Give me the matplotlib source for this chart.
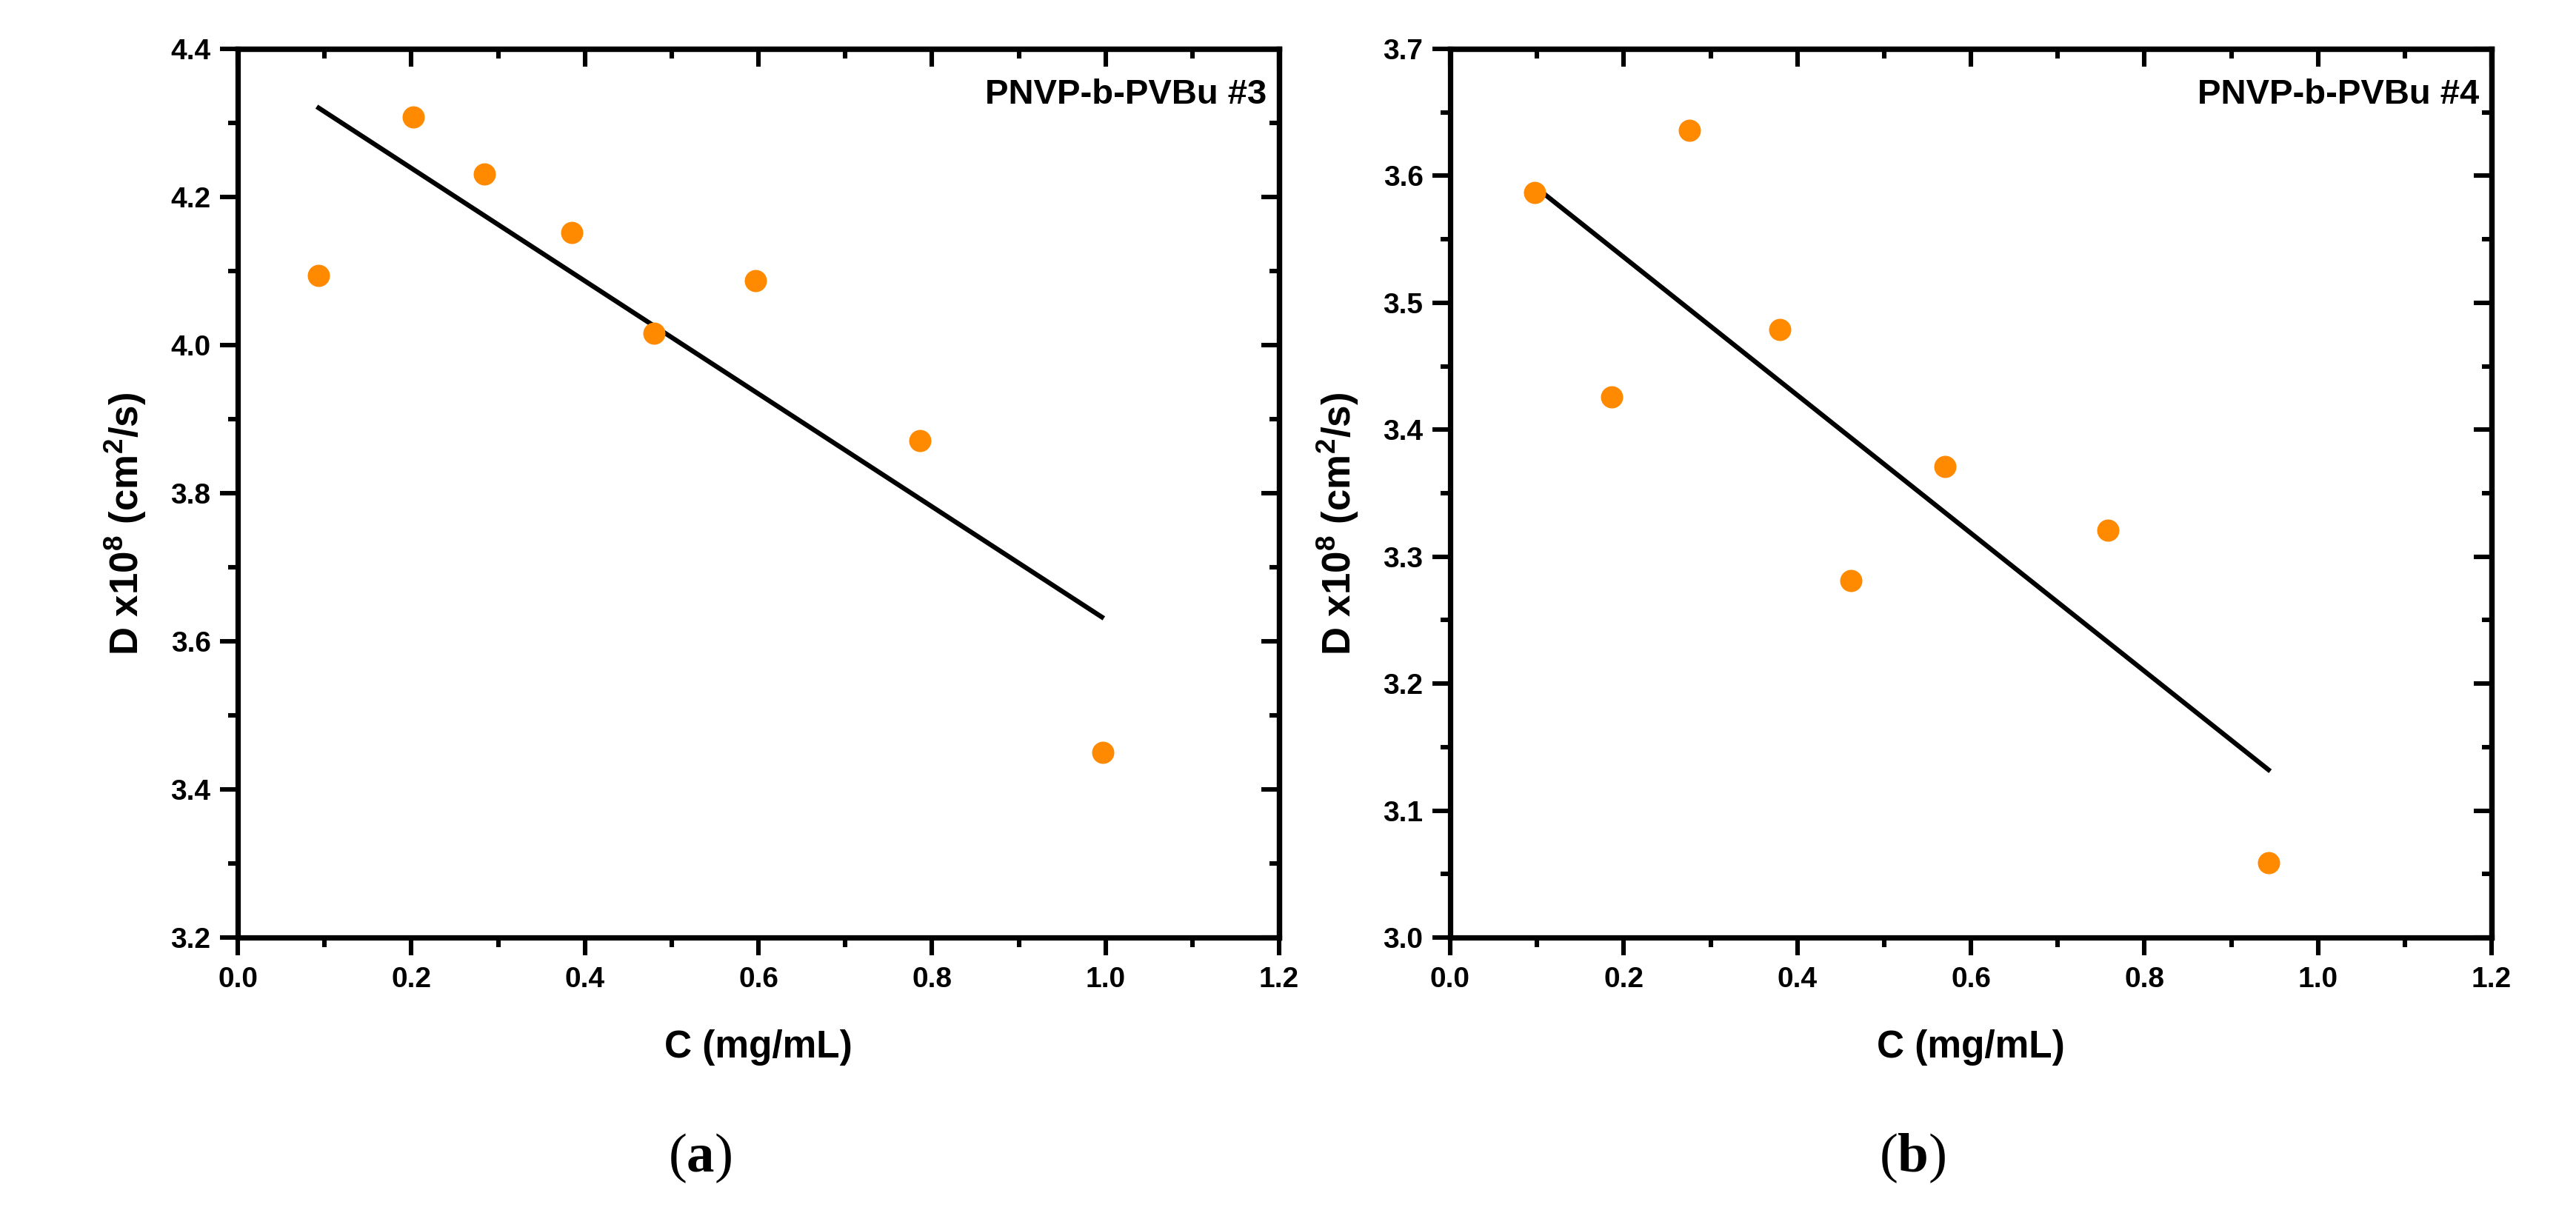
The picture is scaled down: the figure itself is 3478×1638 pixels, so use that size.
import matplotlib
matplotlib.use("Agg")
import matplotlib.pyplot as plt
from matplotlib.ticker import MultipleLocator

# ---- data ----
conc_a = [0.093, 0.202, 0.284, 0.385, 0.480, 0.597, 0.786, 0.997]
diff_a = [4.094, 4.308, 4.231, 4.152, 4.016, 4.087, 3.871, 3.450]
fit_x_a = [0.091, 0.998]
fit_y_a = [4.322, 3.631]

conc_b = [0.097, 0.186, 0.276, 0.380, 0.462, 0.570, 0.758, 0.943]
diff_b = [3.587, 3.426, 3.636, 3.479, 3.281, 3.371, 3.321, 3.059]
fit_x_b = [0.095, 0.945]
fit_y_b = [3.593, 3.131]

xticks = [0.0, 0.2, 0.4, 0.6, 0.8, 1.0, 1.2]
yticks_a = [3.2, 3.4, 3.6, 3.8, 4.0, 4.2, 4.4]
yticks_b = [3.0, 3.1, 3.2, 3.3, 3.4, 3.5, 3.6, 3.7]

labels = ["PNVP-b-PVBu #3", "PNVP-b-PVBu #4"]
panel_tags = ["a", "b"]
xlabel = "C (mg/mL)"
ylabel = r"D x10$^{8}$ (cm$^{2}$/s)"

# ---- style ----
plt.rcParams["font.family"] = ["Liberation Sans", "DejaVu Sans"]
plt.rcParams["font.weight"] = "bold"
plt.rcParams["mathtext.fontset"] = "custom"
plt.rcParams["mathtext.rm"] = "Liberation Sans:bold"
plt.rcParams["mathtext.it"] = "Liberation Sans:bold"
plt.rcParams["mathtext.bf"] = "Liberation Sans:bold"
plt.rcParams["mathtext.sf"] = "Liberation Serif:bold"

W, H, DPI = 3478, 1638, 200
fig = plt.figure(figsize=(W / DPI, H / DPI), dpi=DPI)
fig.patch.set_facecolor("white")

ax_h = (1266 - 66) / H
ax_b = 1 - 1266 / H
ax_w = 1406 / W
lefts = [321 / W, 1958 / W]

orange = "#FF8A00"

panels = [
    (conc_a, diff_a, fit_x_a, fit_y_a, yticks_a, 0.1),
    (conc_b, diff_b, fit_x_b, fit_y_b, yticks_b, 0.05),
]

for i, (cx, dy, fx, fy, yt, yminor) in enumerate(panels):
    ax = fig.add_axes([lefts[i], ax_b, ax_w, ax_h])
    ax.plot(fx, fy, color="black", lw=2.3, solid_capstyle="butt", zorder=2)
    ax.plot(cx, dy, "o", color=orange, ms=9.8, mec=orange, zorder=3)
    ax.set_xlim(xticks[0], xticks[-1])
    ax.set_ylim(yt[0], yt[-1])
    ax.set_xticks(xticks)
    ax.set_yticks(yt)
    ax.set_xticklabels([f"{v:.1f}" for v in xticks])
    ax.set_yticklabels([f"{v:.1f}" for v in yt])
    ax.xaxis.set_minor_locator(MultipleLocator(0.1))
    ax.yaxis.set_minor_locator(MultipleLocator(yminor))
    for s in ax.spines.values():
        s.set_linewidth(2.6)
    ax.tick_params(which="both", direction="out", width=2.2, labelsize=14,
                   top=False, right=False)
    ax.tick_params(which="major", length=8.6)
    ax.tick_params(which="minor", length=4.8)
    ax.tick_params(axis="x", pad=5.5)
    ax.tick_params(axis="y", pad=4.5)
    for lab in ax.get_xticklabels() + ax.get_yticklabels():
        lab.set_fontweight("bold")
    # inward ticks on top / right
    sx = ax.secondary_xaxis("top")
    sx.set_xticks(xticks)
    sx.xaxis.set_minor_locator(MultipleLocator(0.1))
    sx.tick_params(which="both", direction="in", width=2.2, labeltop=False)
    sx.tick_params(which="major", length=8.6)
    sx.tick_params(which="minor", length=4.8)
    sx.spines["top"].set_linewidth(2.6)
    sy = ax.secondary_yaxis("right")
    sy.set_yticks(yt)
    sy.yaxis.set_minor_locator(MultipleLocator(yminor))
    sy.tick_params(which="both", direction="in", width=2.2, labelright=False)
    sy.tick_params(which="major", length=8.6)
    sy.tick_params(which="minor", length=4.8)
    sy.spines["right"].set_linewidth(2.6)

    ax.set_xlabel(xlabel, fontsize=18.5, fontweight="bold", va="baseline")
    ax.xaxis.set_label_coords(0.5, -0.135)
    ax.set_ylabel(ylabel, fontsize=19, fontweight="bold", va="center")
    ax.yaxis.set_label_coords(-0.108, 0.465)

    ax.text(0.988, 0.938, labels[i], transform=ax.transAxes, ha="right",
            va="baseline", fontsize=17, fontweight="bold")

tag_x = [945 / W, 2582 / W]
for i, t in enumerate(panel_tags):
    fig.text(tag_x[i], 1 - 1564 / H, "(" + r"$\mathsf{" + t + "}$" + ")",
             ha="center", va="center", fontsize=27,
             family="Liberation Serif", fontweight="normal")

fig.savefig("out.png", dpi=DPI, facecolor="white")
